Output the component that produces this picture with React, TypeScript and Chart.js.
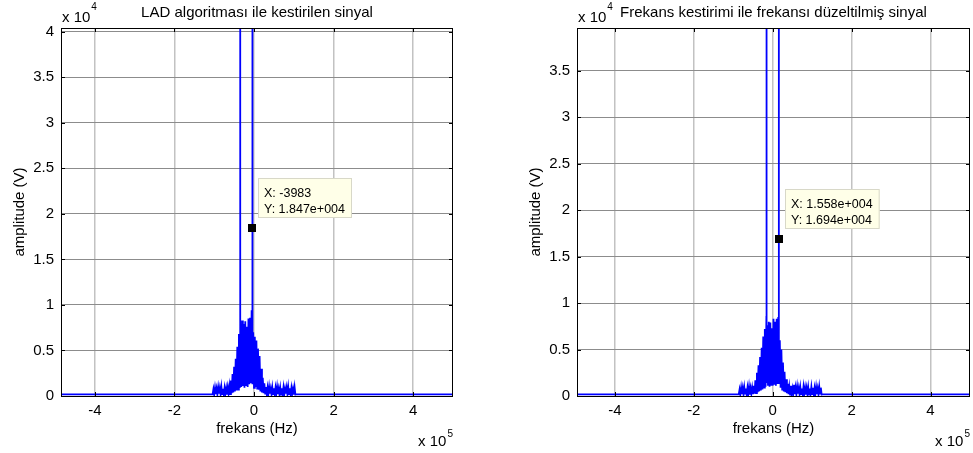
import React, { useEffect, useRef } from "react";
import { Chart, registerables } from "chart.js";
Chart.register(...registerables);

const FONT = '"Liberation Sans", Arial, Helvetica, sans-serif';

// ---------- Left plot: LAD algoritması ile kestirilen sinyal ----------
const leftFreqKHz = [
  -485, -104, -102, -100, -98, -96, -94, -92, -90, -88, -86, -84, -82, -80, -78, -76, -74, -72, -70, -68,
  -66, -64, -62, -60, -58, -56, -54, -52, -50, -48, -46, -44, -42, -40, -38, -36, -35.02, -35, -34.98,
  -34, -32, -30, -28, -26, -24, -22, -20, -18, -16, -14, -12, -10, -8, -6, -4.2, -3.983, -3.96, -3.94,
  -2, 0, 2, 4, 6, 8, 10, 12, 14, 16, 18, 20, 22, 24, 26, 28, 30, 32, 34, 36, 38, 40, 42, 44, 46, 48,
  50, 52, 54, 56, 58, 60, 62, 64, 66, 68, 70, 72, 74, 76, 78, 80, 82, 84, 86, 88, 90, 92, 94, 96, 98,
  100, 102, 104, 106, 500,
];
const leftAmp = [
  180, 200, 750, 150, 900, 200, 800, 150, 950, 250, 850, 150, 1000, 200, 800, 150, 900, 250, 850, 150,
  950, 300, 1100, 200, 1700, 300, 2400, 400, 3200, 500, 4100, 600, 5400, 700, 6800, 900, 1200, 300000, 1200,
  7800, 1000, 8300, 1100, 7900, 900, 8200, 1200, 7600, 1000, 8500, 1300, 8600, 1400, 9400, 1500, 18470, 300000, 1300,
  7000, 900, 6500, 1000, 6100, 800, 5200, 700, 4400, 500, 3000, 400, 2000, 300, 1400, 250, 1000, 200, 900, 150, 1000, 250, 800, 150, 950, 200,
  850, 150, 900, 250, 1000, 200, 800, 150, 900, 150, 850, 200, 950, 150, 800, 250, 900, 150, 1000, 200, 850, 150, 900, 250, 800,
  150, 950, 150, 180, 180,
];

// ---------- Right plot: Frekans kestirimi ile frekansı düzeltilmiş sinyal ----------
const rightFreqKHz = [
  -496, -86, -84, -82, -80, -78, -76, -74, -72, -70, -68, -66, -64, -62, -60, -58, -56, -54, -52, -50,
  -48, -46, -44, -42, -40, -38, -36, -34, -32, -30, -28, -26, -24, -22, -20, -18, -16, -15.6, -15.58, -15.56,
  -14, -12, -10, -8, -6, -4, -2, 0, 2, 4, 6, 8, 10, 12, 14, 15.5, 15.58, 15.6, 15.62,
  18, 20, 22, 24, 26, 28, 30, 32, 34, 36, 38, 40, 42, 44, 46, 48, 50, 52, 54, 56, 58, 60, 62, 64, 66,
  68, 70, 72, 74, 76, 78, 80, 82, 84, 86, 88, 90, 92, 94, 96, 98, 100, 102, 104, 106, 108, 110, 112,
  114, 116, 118, 120, 122, 124, 126, 500,
];
const rightAmp = [
  180, 200, 700, 150, 900, 200, 850, 150, 950, 250, 800, 150, 900, 200, 1000, 150, 850, 250, 900, 200,
  1100, 250, 1700, 300, 2500, 400, 3300, 500, 4200, 600, 5200, 700, 6400, 900, 7200, 1000, 8600, 1500, 300000, 1400,
  7600, 1100, 8000, 1000, 7900, 1200, 7300, 1100, 8300, 1200, 8000, 1100, 8300, 1300, 8500, 1400, 16940, 300000, 1300,
  6000, 900, 5000, 700, 3600, 500, 2600, 400, 1800, 300, 1300, 200, 1000, 150, 1100, 150, 800, 250, 1200, 200, 900, 150, 1000, 250, 850,
  150, 950, 200, 800, 150, 1000, 250, 900, 150, 850, 200, 950, 150, 800, 250, 1000, 200, 900, 150, 850, 150, 950, 200,
  800, 150, 1000, 250, 900, 150, 180, 180,
];

const xTickValues = [-400000, -200000, 0, 200000, 400000];
const leftYTickValues = [0, 5000, 10000, 15000, 20000, 25000, 30000, 35000, 40000];
const rightYTickValues = [0, 5000, 10000, 15000, 20000, 25000, 30000, 35000];

const leftTitle = "LAD algoritması ile kestirilen sinyal";
const rightTitle = "Frekans kestirimi ile frekansı düzeltilmiş sinyal";
const xLabel = "frekans (Hz)";
const yLabel = "amplitude (V)";

const leftTip = [-3983, 18470];
const leftTipText = ["X: -3983", "Y: 1.847e+004"];
const rightTip = [15580, 16940];
const rightTipText = ["X: 1.558e+004", "Y: 1.694e+004"];

type PlotProps = {
  freqKHz: number[];
  amp: number[];
  xMin: number;
  xMax: number;
  yMax: number;
  yTicks: number[];
  title: string;
  tip: number[];
  tipText: string[];
  width: number;
  padLeft: number;
  padRight: number;
  left: number;
};

function Plot(p: PlotProps) {
  const ref = useRef<HTMLCanvasElement | null>(null);
  useEffect(() => {
    if (!ref.current) return;
    const data = p.freqKHz.map((f, i) => ({ x: f * 1000, y: p.amp[i] }));
    const overlay = {
      id: "overlay",
      afterDraw(chart: any) {
        const ctx = chart.ctx as CanvasRenderingContext2D;
        const a = chart.chartArea;
        const sx = chart.scales.x;
        const sy = chart.scales.y;
        ctx.save();
        // data tip marker
        const mx = sx.getPixelForValue(p.tip[0]);
        const my = sy.getPixelForValue(p.tip[1]);
        ctx.fillStyle = "#000";
        ctx.fillRect(Math.round(mx) - 4, Math.round(my) - 4, 8, 8);
        // box
        ctx.strokeStyle = "#000";
        ctx.lineWidth = 1;
        ctx.strokeRect(Math.round(a.left) + 0.5, Math.round(a.top) + 0.5, Math.round(a.right - a.left) - 1, Math.round(a.bottom - a.top));
        // inner ticks
        ctx.beginPath();
        for (const v of xTickValues) {
          const px = Math.round(sx.getPixelForValue(v)) + 0.5;
          ctx.moveTo(px, a.bottom);
          ctx.lineTo(px, a.bottom - 4);
          ctx.moveTo(px, a.top);
          ctx.lineTo(px, a.top + 4);
        }
        for (const v of p.yTicks) {
          const py = Math.round(sy.getPixelForValue(v)) + 0.5;
          ctx.moveTo(a.left, py);
          ctx.lineTo(a.left + 4, py);
          ctx.moveTo(a.right, py);
          ctx.lineTo(a.right - 4, py);
        }
        ctx.stroke();
        // data tip box
        ctx.font = `12.5px ${FONT}`;
        const tw = Math.max(...p.tipText.map((t) => ctx.measureText(t).width));
        const bx = Math.round(mx) + 6;
        const by = Math.round(my) - 50;
        ctx.fillStyle = "#ffffe8";
        ctx.fillRect(bx, by, tw + 13, 40);
        ctx.strokeStyle = "#d8d8c8";
        ctx.strokeRect(bx + 0.5, by + 0.5, tw + 12, 39);
        ctx.fillStyle = "#000";
        ctx.textAlign = "left";
        ctx.textBaseline = "middle";
        ctx.fillText(p.tipText[0], bx + 6, by + 16);
        ctx.fillText(p.tipText[1], bx + 6, by + 32);
        // title
        ctx.font = `15px ${FONT}`;
        ctx.textAlign = "center";
        ctx.textBaseline = "alphabetic";
        ctx.fillText(p.title, (a.left + a.right) / 2, 17);
        // x 10^4
        ctx.textAlign = "left";
        ctx.fillText("x 10", a.left + 1, 22);
        const w10 = ctx.measureText("x 10").width;
        ctx.font = `10px ${FONT}`;
        ctx.fillText("4", a.left + 1 + w10 + 1, 10);
        // x 10^5
        ctx.font = `10px ${FONT}`;
        const w5 = ctx.measureText("5").width;
        ctx.textAlign = "right";
        ctx.fillText("5", a.right, 437);
        ctx.font = `15px ${FONT}`;
        ctx.fillText("x 10", a.right - w5 - 1, 446);
        // x label
        ctx.textAlign = "center";
        ctx.fillText(xLabel, (a.left + a.right) / 2, 433);
        // y label
        ctx.translate(p.padLeft - 41, (a.top + a.bottom) / 2);
        ctx.rotate(-Math.PI / 2);
        ctx.textBaseline = "middle";
        ctx.fillText(yLabel, 0, 0);
        ctx.restore();
      },
    };
    const chart = new Chart(ref.current, {
      type: "line",
      data: {
        datasets: [
          {
            data,
            borderColor: "#0000ff",
            borderWidth: 1.8,
            pointRadius: 0,
            tension: 0,
            fill: false,
          },
        ],
      },
      options: {
        animation: false,
        responsive: false,
        devicePixelRatio: 1,
        layout: { padding: { top: 28, right: p.padRight, bottom: 0, left: 0 } },
        plugins: { legend: { display: false }, title: { display: false }, tooltip: { enabled: false } },
        events: [],
        scales: {
          x: {
            type: "linear",
            min: p.xMin,
            max: p.xMax,
            afterBuildTicks: (s: any) => {
              s.ticks = xTickValues.map((v) => ({ value: v }));
            },
            afterFit: (s: any) => {
              s.height = 57;
            },
            ticks: {
              autoSkip: false,
              maxRotation: 0,
              padding: 6,
              color: "#000",
              font: { family: FONT, size: 15 },
              callback: (v: any) => String(Number(v) / 1e5),
            },
            grid: { color: "#c2c2c2", drawTicks: false, lineWidth: 1.5 },
            border: { display: false },
          },
          y: {
            type: "linear",
            min: 0,
            max: p.yMax,
            afterBuildTicks: (s: any) => {
              s.ticks = p.yTicks.map((v) => ({ value: v }));
            },
            afterFit: (s: any) => {
              s.width = p.padLeft;
            },
            ticks: {
              autoSkip: false,
              padding: 7,
              color: "#000",
              font: { family: FONT, size: 15 },
              callback: (v: any) => String(Number(v) / 1e4),
            },
            grid: { color: "#8c8c8c", drawTicks: false, lineWidth: 1 },
            border: { display: false },
          },
        },
      },
      plugins: [overlay],
    });
    return () => chart.destroy();
  }, []);
  return (
    <canvas
      ref={ref}
      width={p.width}
      height={453}
      style={{ position: "absolute", left: p.left, top: 0, width: p.width, height: 453 }}
    />
  );
}

export default function App() {
  return (
    <div style={{ position: "absolute", left: 0, top: 0, width: 973, height: 453, overflow: "hidden", background: "#fff" }}>
      <Plot
        freqKHz={leftFreqKHz}
        amp={leftAmp}
        xMin={-485000}
        xMax={500000}
        yMax={40400}
        yTicks={leftYTickValues}
        title={leftTitle}
        tip={leftTip}
        tipText={leftTipText}
        width={486}
        padLeft={61}
        padRight={33}
        left={0}
      />
      <Plot
        freqKHz={rightFreqKHz}
        amp={rightAmp}
        xMin={-496000}
        xMax={500000}
        yMax={39600}
        yTicks={rightYTickValues}
        title={rightTitle}
        tip={rightTip}
        tipText={rightTipText}
        width={487}
        padLeft={91}
        padRight={3}
        left={486}
      />
    </div>
  );
}
